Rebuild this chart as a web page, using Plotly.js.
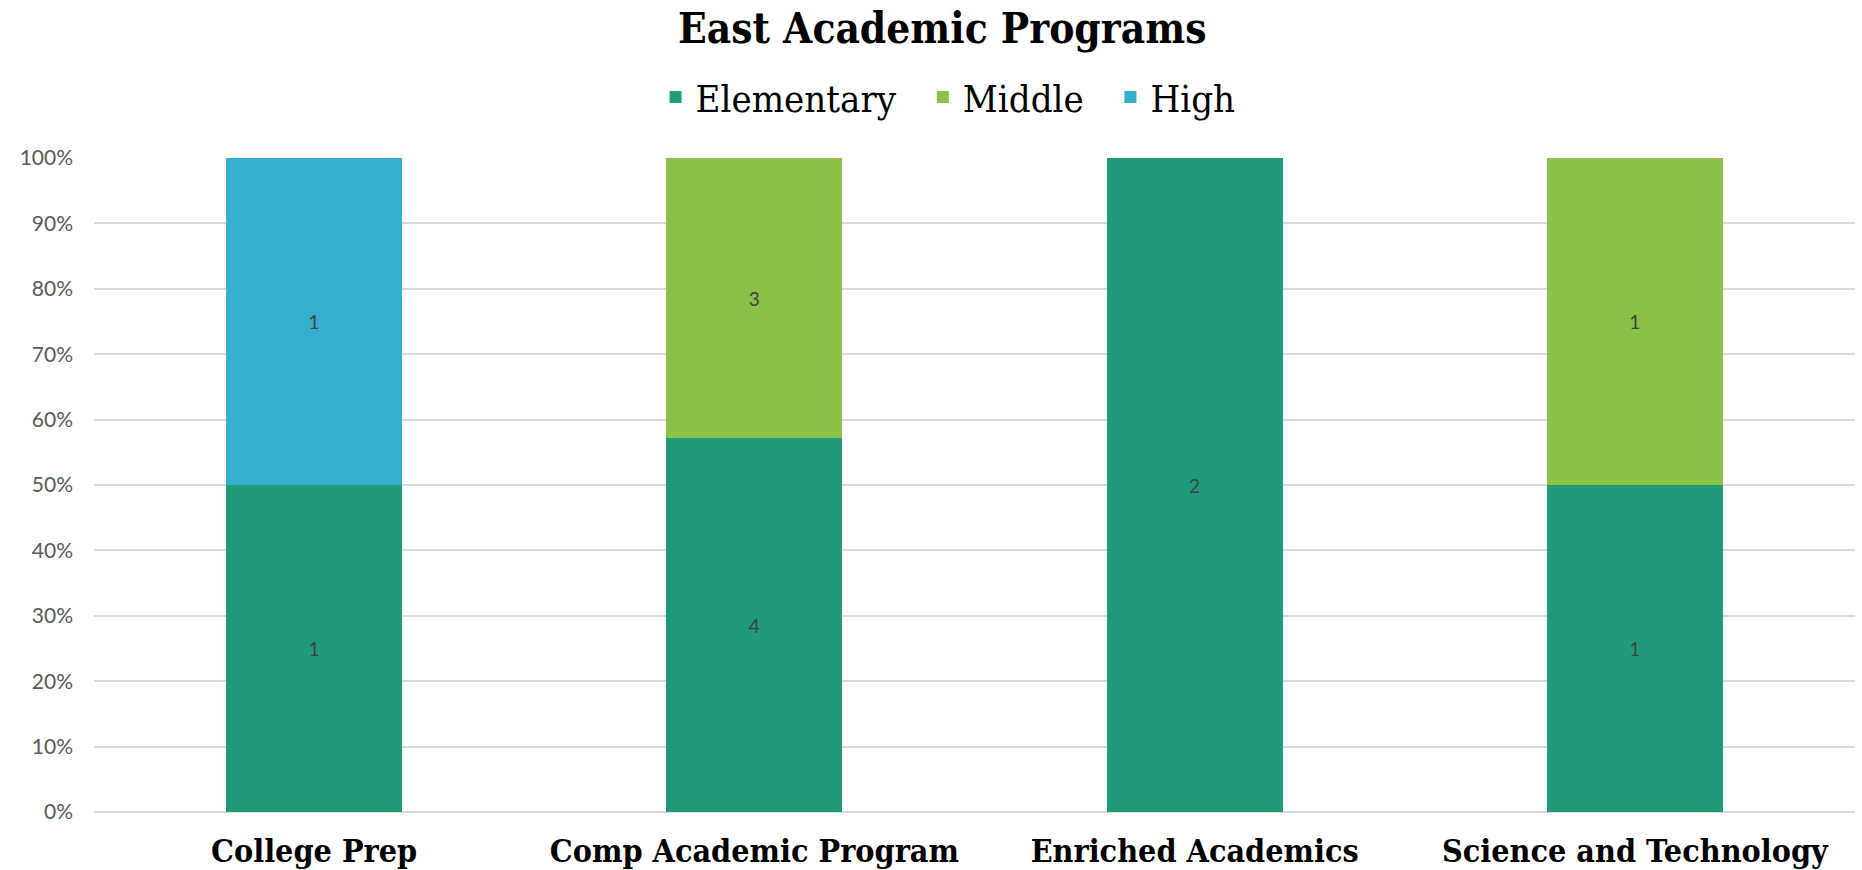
<!DOCTYPE html>
<html>
<head>
<meta charset="utf-8">
<script src="https://cdn.plot.ly/plotly-3.0.1.min.js"></script>
<style>
  html, body { margin: 0; padding: 0; background: #fff; }
  #chart { width: 1862px; height: 870px; }
</style>
</head>
<body>
<div id="chart"></div>
<script>
// Programas y número de escuelas por nivel
const programs = ["College Prep", "Comp Academic Program", "Enriched Academics", "Science and Technology"];
const elementary = [1, 4, 2, 1];
const middle = [0, 3, 0, 1];
const high = [1, 0, 0, 0];

// Etiqueta vacía cuando el valor es cero
function labels(values) {
  return values.map((v) => (v ? String(v) : ""));
}

function serie(name, values, color) {
  return {
    type: "bar",
    name: name,
    legendgroup: name,
    x: programs,
    y: values,
    marker: { color: color },
    text: labels(values),
    textposition: "inside",
    insidetextanchor: "middle",
    textangle: 0,
    textfont: { family: "Lato, sans-serif", size: 19, color: "#404040" },
    hovertemplate: "%{x}<br>" + name + ": %{y}<extra></extra>",
  };
}

// Espacio extra entre entradas de la leyenda
const gap = "\u00a0\u00a0";

const data = [
  serie("Elementary", elementary, "#1f9b7a"),
  serie("Middle", middle, "#8bc146"),
  serie("High", high, "#36aecf"),
];
data[0].name = "Elementary" + gap;
data[1].name = "Middle" + gap;

const serifFont = "DejaVu Serif Condensed, Liberation Serif, serif";

const layout = {
  width: 1862,
  height: 870,
  paper_bgcolor: "#ffffff",
  plot_bgcolor: "#ffffff",
  barmode: "stack",
  barnorm: "percent",
  bargap: 0.6,
  margin: { l: 94, r: 7, t: 158, b: 58 },
  title: {
    text: "<b>East Academic Programs</b>",
    font: { family: serifFont, size: 42, color: "#000" },
    x: 0.506,
    xanchor: "center",
    y: 0.968,
    yanchor: "middle",
  },
  legend: {
    orientation: "h",
    x: 0.485,
    xanchor: "center",
    y: 1.093,
    yanchor: "middle",
    font: { family: serifFont, size: 38, color: "#000" },
    itemwidth: 30,
    traceorder: "normal",
  },
  xaxis: {
    showgrid: false,
    showline: false,
    zeroline: false,
    ticks: "",
    ticklabelstandoff: 17,
    tickfont: { family: serifFont, size: 32, color: "#000", weight: "bold" },
  },
  yaxis: {
    range: [0, 100],
    dtick: 10,
    ticksuffix: "%",
    showgrid: true,
    gridcolor: "#d9d9d9",
    gridwidth: 1.5,
    zeroline: true,
    zerolinecolor: "#d9d9d9",
    zerolinewidth: 1.5,
    showline: false,
    ticklabelstandoff: 20,
    tickfont: { family: "Lato, sans-serif", size: 21, color: "#595959" },
  },
  showlegend: true,
};

Plotly.newPlot("chart", data, layout, { displayModeBar: false });
</script>
</body>
</html>
